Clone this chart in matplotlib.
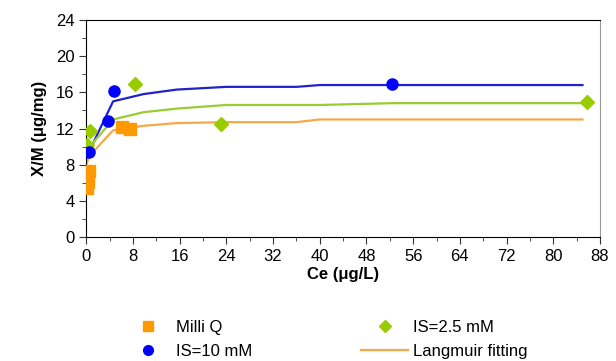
import numpy as np
import matplotlib.pyplot as plt
from matplotlib.ticker import MultipleLocator
from matplotlib.lines import Line2D

plt.rcParams['font.family'] = ['Liberation Sans', 'DejaVu Sans']

# measured data
mq_x = [0.1, 0.3, 0.4, 6.1, 7.5]
mq_y = [5.4, 6.1, 7.3, 12.2, 12.0]
is10_x = [0.4, 3.8, 4.7, 52.4]
is10_y = [9.4, 12.8, 16.1, 16.9]
is25_x = [0.1, 0.6, 8.4, 23.1, 85.8]
is25_y = [10.2, 11.7, 16.9, 12.5, 14.9]

# Langmuir fits
fit_x = [0.1, 0.6, 4.6, 9.8, 15.5, 24.0, 36.0, 40.0, 52.4, 85.0]
fit_mq = [8.2, 9.0, 11.8, 12.3, 12.6, 12.7, 12.7, 13.0, 13.0, 13.0]
fit_25 = [9.3, 10.0, 13.0, 13.8, 14.2, 14.6, 14.6, 14.6, 14.8, 14.8]
fit_10 = [8.6, 9.6, 15.0, 15.8, 16.3, 16.6, 16.6, 16.8, 16.8, 16.8]

c_or = '#FF9900'
c_or_line = '#F5A84A'
c_gr = '#99CC00'
c_bl = '#0000FF'
c_bl_line = '#2222CC'
c_gr_line = '#99CC33'

fig = plt.figure(figsize=(6.16, 3.61), dpi=100)
ax = fig.add_axes([0.14, 0.343, 0.834, 0.602])

ax.plot(fit_x, fit_10, color=c_bl_line, lw=1.6, zorder=2)
ax.plot(fit_x, fit_25, color=c_gr_line, lw=1.6, zorder=2)
ax.plot(fit_x, fit_mq, color=c_or_line, lw=1.6, zorder=2)
ax.plot(mq_x, mq_y, 's', color=c_or, ms=8, zorder=3)
ax.plot(is25_x, is25_y, 'D', color=c_gr, ms=7, zorder=3)
ax.plot(is10_x, is10_y, 'o', color=c_bl, ms=8, zorder=3)

ax.set_xlim(0, 88)
ax.set_ylim(0, 24)
ax.xaxis.set_major_locator(MultipleLocator(8))
ax.xaxis.set_minor_locator(MultipleLocator(4))
ax.yaxis.set_major_locator(MultipleLocator(4))
ax.yaxis.set_minor_locator(MultipleLocator(2))
ax.tick_params(which='both', direction='out', labelsize=12, color='#333333')
ax.tick_params(which='major', length=5)
ax.tick_params(which='minor', length=3)
ax.spines['right'].set_color('#999999')
ax.set_xlabel('Ce (\u03bcg/L)', fontsize=12, fontweight='bold', labelpad=2)
ax.set_ylabel('X/M (\u03bcg/mg)', fontsize=12, fontweight='bold', labelpad=6)

handles = [
    Line2D([], [], marker='s', color=c_or, ls='none', ms=7),
    Line2D([], [], marker='o', color=c_bl, ls='none', ms=7),
    Line2D([], [], marker='D', color=c_gr, ls='none', ms=6),
    Line2D([], [], color=c_or_line, lw=1.6),
]
labels = ['Milli Q', 'IS=10 mM', 'IS=2.5 mM', 'Langmuir fitting']
fig.legend(handles, labels, ncol=2, loc='upper left', bbox_to_anchor=(0.183, 0.145),
           frameon=False, fontsize=12, handlelength=2.8, columnspacing=6.55,
           labelspacing=0.5, handletextpad=0.3, borderpad=0.2)

fig.savefig('out.png', dpi=100)
